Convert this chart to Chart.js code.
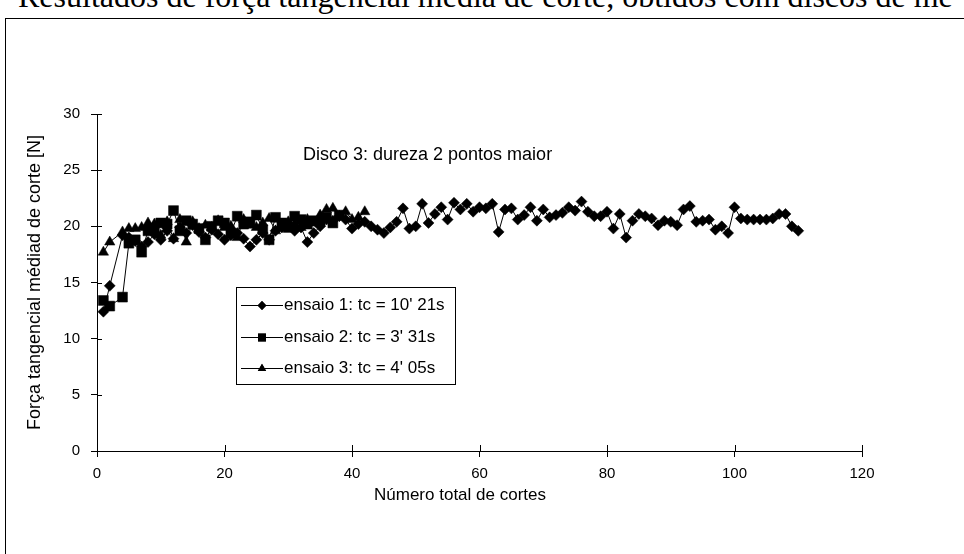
<!DOCTYPE html>
<html lang="pt-BR">
<head>
<meta charset="utf-8">
<title>Força tangencial média de corte - Disco 3</title>
<script src="https://cdn.jsdelivr.net/npm/chart.js@4.4.1/dist/chart.umd.min.js"></script>
<style>
    html, body { margin: 0; padding: 0; background: #fff; overflow: hidden; }
    #pagina { position: relative; width: 964px; height: 554px; overflow: hidden; }
    #tituloTopo {
        position: absolute; left: 18px; top: -22px; white-space: nowrap;
        font-family: "Liberation Serif", "DejaVu Serif", serif; font-size: 32px; color: #000;
    }
    #moldura {
        position: absolute; left: 5px; top: 18px; width: 1000px; height: 600px;
        border: 1px solid #000; box-sizing: border-box;
    }
    #grafico { position: absolute; left: 0; top: 0; }
    .texto { position: absolute; font-family: "Liberation Sans", Arial, sans-serif; color: #000; white-space: nowrap; }
    #anotacao { left: 303px; top: 144px; font-size: 18px; }
    #tituloX { left: 460px; top: 485px; font-size: 17px; transform: translateX(-50%); }
    #legenda {
        position: absolute; left: 236px; top: 287px; width: 220px; height: 98px;
        border: 1px solid #000; box-sizing: border-box; background: #fff;
        font-family: "Liberation Sans", Arial, sans-serif; font-size: 17px;
    }
    .item { position: absolute; left: 4px; height: 20px; display: flex; align-items: center; }
    .item canvas { margin-right: 1px; }
</style>
</head>
<body>
<div id="pagina">
    <div id="tituloTopo">Resultados de força tangencial média de corte, obtidos com discos de me</div>
    <div id="moldura"></div>
    <canvas id="grafico" width="964" height="554"></canvas>
    <div id="anotacao" class="texto">Disco 3: dureza 2 pontos maior</div>
    <div id="tituloX" class="texto">Número total de cortes</div>
    <div id="legenda"></div>
</div>
<script>
// Dados (número de cortes x força tangencial média [N])
const cortesEnsaio1 = [1, 2, 4, 5, 6, 7, 8, 9, 10, 11, 12, 13, 14, 15, 16, 17, 18, 19, 20,
    21, 22, 23, 24, 25, 26, 27, 28, 29, 30, 31, 32, 33, 34, 35, 36, 37, 38, 39, 40,
    41, 42, 43, 44, 45, 46, 47, 48, 49, 50, 51, 52, 53, 54, 55, 56, 57, 58, 59, 60,
    61, 62, 63, 64, 65, 66, 67, 68, 69, 70, 71, 72, 73, 74, 75, 76, 77, 78, 79, 80,
    81, 82, 83, 84, 85, 86, 87, 88, 89, 90, 91, 92, 93, 94, 95, 96, 97, 98, 99, 100,
    101, 102, 103, 104, 105, 106, 107, 108, 109, 110];
const forcaEnsaio1 = [12.4, 14.7, 19.2, 19.0, 18.7, 18.2, 18.6, 19.3, 18.8, 19.6, 18.9, 19.9, 19.4, 20.1, 19.5, 19.0, 19.7, 19.3, 18.8,
    19.2, 19.4, 18.9, 18.2, 18.8, 19.4, 18.8, 19.6, 19.9, 20.2, 19.6, 19.9, 18.6, 19.4, 20.0, 20.6, 20.5, 20.9, 20.6, 19.8,
    20.2, 20.4, 20.0, 19.7, 19.4, 19.9, 20.4, 21.6, 19.8, 20.0, 22.0, 20.3, 21.1, 21.7, 20.6, 22.1, 21.5, 22.0, 21.3, 21.7,
    21.6, 22.0, 19.5, 21.5, 21.6, 20.6, 21.0, 21.7, 20.5, 21.5, 20.8, 21.0, 21.2, 21.7, 21.4, 22.2, 21.3, 20.9, 20.9, 21.3,
    19.8, 21.1, 19.0, 20.5, 21.1, 20.9, 20.7, 20.1, 20.5, 20.4, 20.1, 21.5, 21.8, 20.4, 20.5, 20.6, 19.7, 20.0, 19.4, 21.7,
    20.7, 20.6, 20.6, 20.6, 20.6, 20.7, 21.1, 21.1, 20.0, 19.6];

const cortesEnsaio2 = [1, 2, 4, 5, 6, 7, 8, 9, 10, 11, 12, 13, 14, 15, 16, 17, 18, 19, 20,
    21, 22, 23, 24, 25, 26, 27, 28, 29, 30, 31, 32, 33, 34, 35, 36, 37, 38];
const forcaEnsaio2 = [13.4, 12.9, 13.7, 18.5, 18.8, 17.7, 19.6, 19.8, 20.3, 20.2, 21.4, 19.6, 20.5, 20.2, 19.8, 18.8, 20.0, 20.5, 20.3,
    19.4, 20.9, 20.2, 20.4, 21.0, 19.7, 18.8, 20.8, 20.3, 19.9, 20.9, 20.6, 20.2, 20.5, 20.4, 20.8, 20.3, 21.0];

const cortesEnsaio3 = [1, 2, 4, 5, 6, 7, 8, 9, 10, 11, 12, 13, 14, 15, 16, 17, 18, 19, 20,
    21, 22, 23, 24, 25, 26, 27, 28, 29, 30, 31, 32, 33, 34, 35, 36, 37, 38, 39, 40, 41, 42];
const forcaEnsaio3 = [17.7, 18.6, 19.5, 19.8, 19.8, 19.9, 20.3, 20.2, 19.2, 20.4, 18.9, 20.6, 18.6, 20.4, 19.8, 20.1, 19.9, 20.5, 19.9,
    20.0, 19.0, 20.6, 20.1, 19.9, 20.3, 20.7, 19.6, 20.1, 20.4, 20.2, 19.9, 20.6, 20.3, 21.0, 21.5, 21.6, 20.9, 21.3, 20.6, 20.8, 21.3];

const nomesEnsaios = ['ensaio 1: tc = 10\' 21s', 'ensaio 2: tc = 3\' 31s', 'ensaio 3: tc = 4\' 05s'];
const marcadores = ['rectRot', 'rect', 'triangle'];
const raiosMarcador = [5.5, 7, 6];

const ticksY = [0, 5, 10, 15, 20, 25, 30];
const ticksX = [0, 20, 40, 60, 80, 100, 120];

const fonteEixo = '"Liberation Sans", Arial, sans-serif';

function montarPontos(xs, ys) {
    return xs.map((x, i) => ({ x: x, y: ys[i] }));
}

// Traços de escala cruzando o eixo (estilo Excel): parte interna do traço
const tracosInternos = {
    id: 'tracosInternos',
    afterDraw(chart) {
        const { ctx, scales: { x, y }, chartArea } = chart;
        ctx.save();
        ctx.strokeStyle = '#000';
        ctx.lineWidth = 1;
        ctx.beginPath();
        ticksY.forEach(v => {
            const py = Math.round(y.getPixelForValue(v)) + 0.5;
            ctx.moveTo(chartArea.left, py);
            ctx.lineTo(chartArea.left + 5, py);
        });
        ticksX.forEach(v => {
            const px = Math.round(x.getPixelForValue(v)) + 0.5;
            ctx.moveTo(px, chartArea.bottom);
            ctx.lineTo(px, chartArea.bottom - 6);
        });
        ctx.stroke();
        ctx.restore();
    }
};

function criarGrafico() {
    const canvas = document.getElementById('grafico');
    const series = [
        montarPontos(cortesEnsaio1, forcaEnsaio1),
        montarPontos(cortesEnsaio2, forcaEnsaio2),
        montarPontos(cortesEnsaio3, forcaEnsaio3)
    ];

    new Chart(canvas.getContext('2d'), {
        type: 'scatter',
        data: {
            datasets: series.map((dados, i) => ({
                label: nomesEnsaios[i],
                data: dados,
                showLine: true,
                borderColor: '#000',
                borderWidth: 1,
                backgroundColor: '#000',
                pointStyle: marcadores[i],
                pointRadius: raiosMarcador[i],
                pointBorderWidth: 0.5,
                pointBorderColor: '#000',
                pointBackgroundColor: '#000',
                order: 3 - i
            }))
        },
        options: {
            responsive: false,
            animation: false,
            devicePixelRatio: 1,
            layout: { padding: { left: 0, top: 114, right: 102, bottom: 0 } },
            plugins: { legend: { display: false }, tooltip: { enabled: false } },
            scales: {
                x: {
                    type: 'linear',
                    min: 0, max: 120,
                    afterFit(scale) { scale.height = 103; },
                    afterBuildTicks(scale) { scale.ticks = ticksX.map(v => ({ value: v })); },
                    grid: { drawOnChartArea: false, drawTicks: true, tickLength: 6, color: '#000' },
                    border: { display: true, color: '#000', width: 1 },
                    ticks: { color: '#000', font: { family: fonteEixo, size: 15 }, padding: 8, maxRotation: 0, autoSkip: false }
                },
                y: {
                    type: 'linear',
                    min: 0, max: 30,
                    afterFit(scale) { scale.width = 97; },
                    afterBuildTicks(scale) { scale.ticks = ticksY.map(v => ({ value: v })); },
                    grid: { drawOnChartArea: false, drawTicks: true, tickLength: 6, color: '#000' },
                    border: { display: true, color: '#000', width: 1 },
                    ticks: { color: '#000', font: { family: fonteEixo, size: 15 }, padding: 11 },
                    title: {
                        display: true,
                        text: 'Força tangencial médiad de corte [N]',
                        color: '#000',
                        font: { family: fonteEixo, size: 18 },
                        padding: { top: 24, bottom: 0 }
                    }
                }
            }
        },
        plugins: [tracosInternos]
    });
}

// Legenda em HTML, posicionada como no original
function criarLegenda() {
    const legenda = document.getElementById('legenda');
    const linhasY = [7, 39, 70];
    nomesEnsaios.forEach((nome, i) => {
        const item = document.createElement('div');
        item.className = 'item';
        item.style.top = linhasY[i] + 'px';
        const amostra = document.createElement('canvas');
        amostra.width = 42;
        amostra.height = 20;
        const c = amostra.getContext('2d');
        c.strokeStyle = '#000';
        c.lineWidth = 1;
        c.beginPath();
        c.moveTo(0, 10.5);
        c.lineTo(42, 10.5);
        c.stroke();
        c.fillStyle = '#000';
        Chart.helpers.drawPoint(c, { pointStyle: marcadores[i], radius: raiosMarcador[i] * 0.8, borderWidth: 0 }, 21, 10.5);
        c.fill();
        item.appendChild(amostra);
        const texto = document.createElement('span');
        texto.textContent = nome;
        item.appendChild(texto);
        legenda.appendChild(item);
    });
}

document.addEventListener('DOMContentLoaded', () => {
    criarGrafico();
    criarLegenda();
});
</script>
</body>
</html>
